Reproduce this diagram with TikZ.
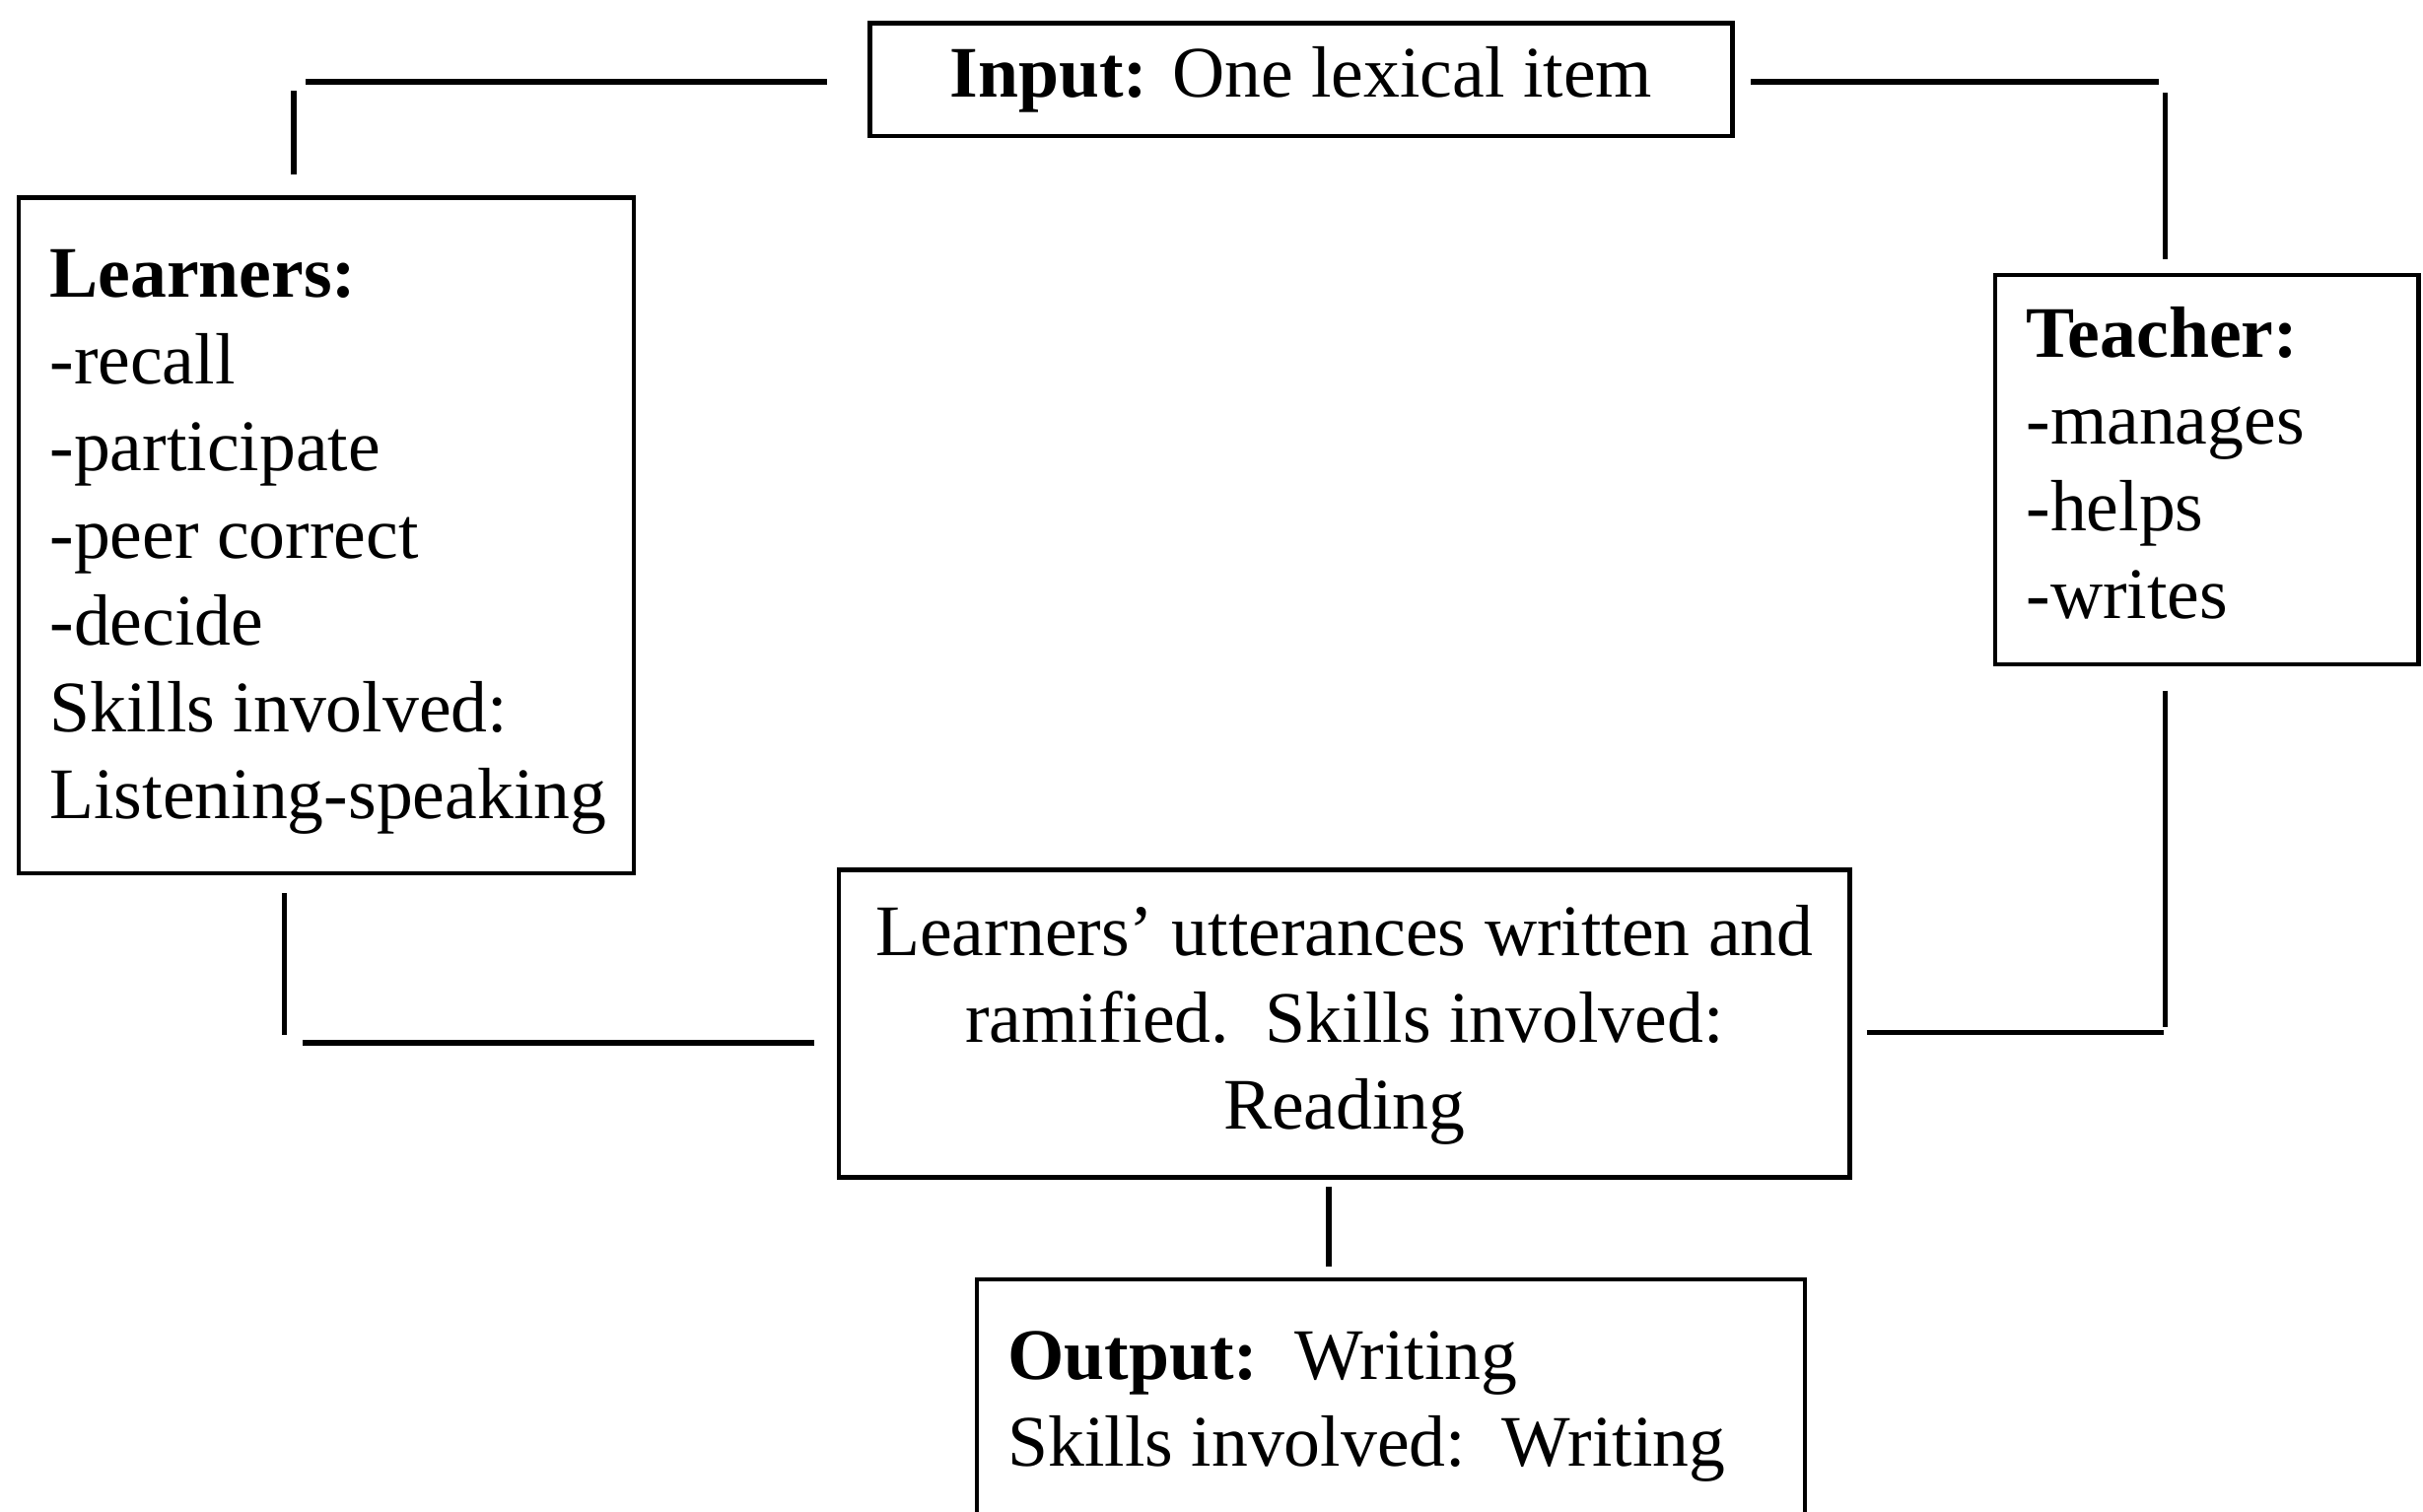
\documentclass[tikz,border=0pt]{standalone}
\usepackage{fontspec}
\setmainfont{Liberation Serif}
\begin{document}
\begin{tikzpicture}[x=1pt,y=-1pt,
  boxnode/.style={draw, line width=2.8pt, inner sep=0pt, minimum width=#1},
  txt/.style={inner sep=0pt, font=\fontsize{47}{56.3}\selectfont},
  conn/.style={line width=3.4pt, line cap=butt}]
\useasboundingbox (0,0) rectangle (1568,978);
\clip (0,0) rectangle (1568,978);
% boxes
\node[boxnode=558pt, minimum height=73pt] (inbox) at (842,51.5) {};
\node[boxnode=398pt, minimum height=437pt] (learnbox) at (211,346.5) {};
\node[boxnode=274pt, minimum height=252pt] (teachbox) at (1428,304) {};
\node[boxnode=654pt, minimum height=199pt] (midbox) at (870,662.5) {};
\node[boxnode=536pt, minimum height=220pt] (outbox) at (900,938) {};
% texts (anchor base = baseline of the last line)
\node[txt, anchor=base] (intext) at (842,63) {\textbf{Input:} One lexical item};
\node[txt, anchor=base west, align=left] (learntext) at (32,530)
  {\textbf{Learners:}\\-recall\\-participate\\-peer correct\\-decide\\Skills involved:\\Listening-speaking};
\node[txt, anchor=base west, align=left] (teachtext) at (1311,400)
  {\textbf{Teacher:}\\-manages\\-helps\\-writes};
\node[txt, anchor=base, align=center] (midtext) at (870,731)
  {Learners’ utterances written and\\ramified.\ \ Skills involved:\\Reading};
\node[txt, anchor=base west, align=left] (outtext) at (652,949)
  {\textbf{Output:}\ \ Writing\\Skills involved:\ \ Writing};
% connector end points
\coordinate (tlh1) at (198,53);  \coordinate (tlh2) at (535,53);
\coordinate (tlv1) at (190,59);  \coordinate (tlv2) at (190,113);
\coordinate (trh1) at (1133,53); \coordinate (trh2) at (1397,53);
\coordinate (trv1) at (1401,60); \coordinate (trv2) at (1401,168);
\coordinate (brv1) at (1401,447); \coordinate (brv2) at (1401,665);
\coordinate (brh1) at (1208,668); \coordinate (brh2) at (1400,668);
\coordinate (blv1) at (184,578); \coordinate (blv2) at (184,670);
\coordinate (blh1) at (196,675); \coordinate (blh2) at (527,675);
\coordinate (mv1) at (860,768);  \coordinate (mv2) at (860,820);
% connectors
\draw[conn] (tlh1) -- (tlh2);
\draw[conn] (tlv1) -- (tlv2);
\draw[conn] (trh1) -- (trh2);
\draw[conn] (trv1) -- (trv2);
\draw[conn] (brv1) -- (brv2);
\draw[conn] (brh1) -- (brh2);
\draw[conn] (blv1) -- (blv2);
\draw[conn] (blh1) -- (blh2);
\draw[conn] (mv1) -- (mv2);
\end{tikzpicture}
\end{document}
